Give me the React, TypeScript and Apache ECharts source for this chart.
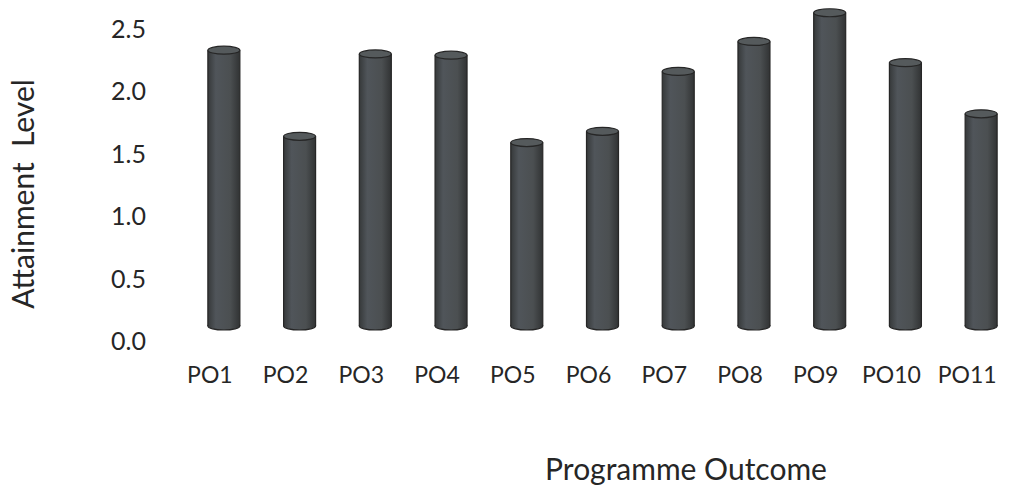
import React, { useEffect, useRef } from "react";
import * as echarts from "echarts";

const categories = ["PO1", "PO2", "PO3", "PO4", "PO5", "PO6", "PO7", "PO8", "PO9", "PO10", "PO11"];
const attainment = [2.21, 1.52, 2.18, 2.17, 1.47, 1.56, 2.04, 2.28, 2.51, 2.11, 1.7];
const yTicks = { min: 0, max: 2.5, interval: 0.5 };
const xTitle = "Programme Outcome";
const yTitle = "Attainment  Level";

export default function App() {
  const ref = useRef<HTMLDivElement>(null);
  useEffect(() => {
    if (!ref.current) return;
    const chart = echarts.init(ref.current, null, { renderer: "svg" });
    const bodyFill = new echarts.graphic.LinearGradient(0, 0, 1, 0, [
      { offset: 0, color: "#36393a" },
      { offset: 0.25, color: "#50555a" },
      { offset: 0.7, color: "#4b4f51" },
      { offset: 1, color: "#313334" },
    ]);
    const font = "Lato, 'Open Sans', sans-serif";
    chart.setOption({
      animation: false,
      backgroundColor: "#ffffff",
      grid: { left: 186, right: -18, top: 14, bottom: 167, containLabel: false },
      xAxis: {
        type: "category",
        data: categories,
        axisLine: { show: false },
        axisTick: { show: false },
        splitLine: { show: false },
        axisLabel: {
          interval: 0,
          margin: 36,
          color: "#262626",
          fontFamily: font,
          fontSize: 23,
          padding: [0, 28, 0, 0],
        },
      },
      yAxis: {
        type: "value",
        min: yTicks.min,
        max: yTicks.max,
        interval: yTicks.interval,
        axisLine: { show: false },
        axisTick: { show: false },
        splitLine: { show: false },
        axisLabel: {
          margin: 40,
          color: "#262626",
          fontFamily: font,
          fontSize: 25,
          verticalAlign: "top",
          lineHeight: 28,
          formatter: (v: number) => v.toFixed(1),
        },
      },
      graphic: [
        {
          type: "text",
          x: 22,
          y: 194,
          rotation: Math.PI / 2,
          style: {
            text: yTitle,
            fill: "#262626",
            font: `30px ${font}`,
            align: "center",
            verticalAlign: "middle",
          },
        },
        {
          type: "text",
          x: 686,
          y: 468,
          style: {
            text: xTitle,
            fill: "#262626",
            font: `30px ${font}`,
            align: "center",
            verticalAlign: "middle",
          },
        },
      ],
      series: [
        {
          type: "custom",
          clip: false,
          data: attainment.map((v, i) => [i, v]),
          encode: { x: 0, y: 1 },
          renderItem: (params: any, api: any) => {
            const idx = api.value(0);
            const v = api.value(1);
            const top = api.coord([idx, v]);
            const bot = api.coord([idx, 0]);
            const w = 32;
            const ry = 4;
            return {
              type: "group",
              children: [
                {
                  type: "ellipse",
                  shape: { cx: bot[0], cy: bot[1], rx: w / 2, ry },
                  style: { fill: bodyFill, stroke: "#262626", lineWidth: 1.2 },
                },
                {
                  type: "rect",
                  shape: { x: top[0] - w / 2, y: top[1], width: w, height: bot[1] - top[1] },
                  style: { fill: bodyFill },
                },
                {
                  type: "line",
                  shape: { x1: top[0] - w / 2, y1: top[1], x2: bot[0] - w / 2, y2: bot[1] },
                  style: { stroke: "#262626", lineWidth: 1.2 },
                },
                {
                  type: "line",
                  shape: { x1: top[0] + w / 2, y1: top[1], x2: bot[0] + w / 2, y2: bot[1] },
                  style: { stroke: "#262626", lineWidth: 1.2 },
                },
                {
                  type: "ellipse",
                  shape: { cx: top[0], cy: top[1], rx: w / 2, ry },
                  style: { fill: "#555a5c", stroke: "#262626", lineWidth: 1.2 },
                },
              ],
            };
          },
        },
      ],
    });
    return () => chart.dispose();
  }, []);
  return (
    <div
      ref={ref}
      style={{ position: "absolute", left: 0, top: 0, width: 1019, height: 493 }}
    />
  );
}
